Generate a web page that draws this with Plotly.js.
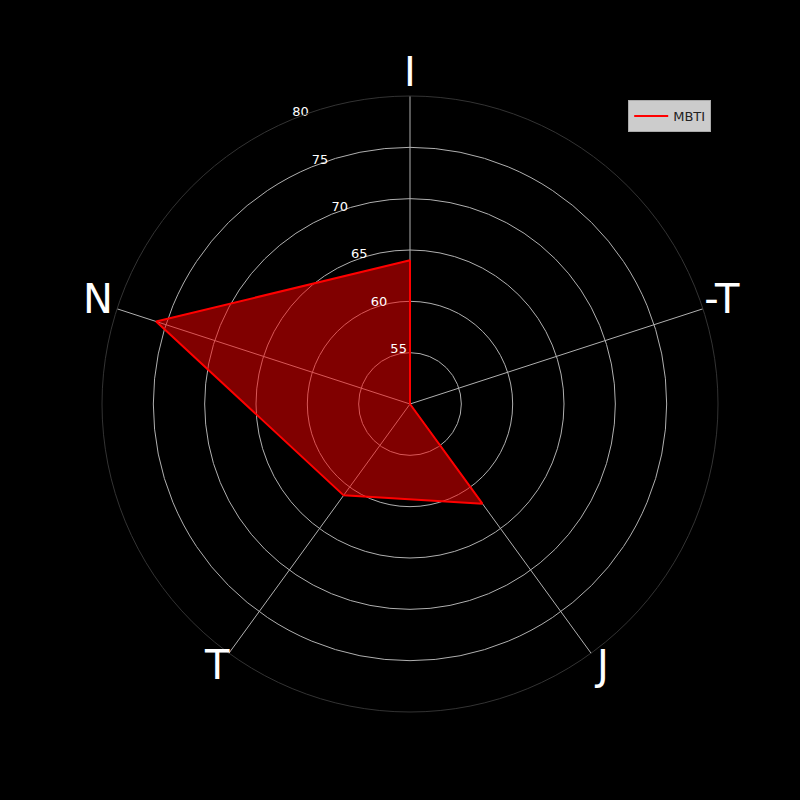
<!DOCTYPE html>
<html>
<head>
<meta charset="utf-8">
<script src="https://cdn.plot.ly/plotly-3.0.1.min.js"></script>
<style>html,body{margin:0;padding:0;background:#000;}#chart{width:800px;height:800px;}</style>
</head>
<body>
<div id="chart"></div>
<script>
const categories = ["I", "-T", "J", "T", "N"];
const values = [64, 50, 62, 61, 76];
const radialTicks = [55, 60, 65, 70, 75, 80];
const seriesName = "MBTI";

// angular positions of the categories (evenly spaced, clockwise from top)
const step = 360 / categories.length;
const thetas = categories.map((c, i) => i * step);
const thetaClosed = thetas.concat([thetas[0]]);
const rClosed = values.concat([values[0]]);

const rLabelAngle = -22.5;   // radial tick labels direction

const traces = [
  {
    type: "scatterpolar",
    r: rClosed,
    theta: thetaClosed,
    mode: "none",
    fill: "toself",
    fillcolor: "rgba(255,0,0,0.5)",
    showlegend: false,
    hoverinfo: "skip"
  },
  {
    type: "scatterpolar",
    r: rClosed,
    theta: thetaClosed,
    mode: "lines",
    line: {color: "#ff0000", width: 2},
    name: seriesName
  },
  {
    type: "scatterpolar",
    r: radialTicks,
    theta: radialTicks.map(() => rLabelAngle),
    mode: "text",
    text: radialTicks.map(String),
    textposition: "top right",
    textfont: {size: 13, color: "#ffffff", family: "DejaVu Sans"},
    cliponaxis: false,
    showlegend: false,
    hoverinfo: "skip"
  },
  {
    // category labels on an invisible, slightly larger overlay polar
    type: "scatterpolar",
    subplot: "polar2",
    r: categories.map(() => 1),
    theta: thetas,
    mode: "text",
    text: categories,
    textposition: "middle center",
    textfont: {size: 40, color: "#ffffff", family: "DejaVu Sans"},
    cliponaxis: false,
    showlegend: false,
    hoverinfo: "skip"
  }
];

const hiddenAxis = {visible: false, showgrid: false, showline: false, showticklabels: false, ticks: ""};

const layout = {
  width: 800,
  height: 800,
  margin: {l: 0, r: 0, t: 0, b: 0},
  paper_bgcolor: "#000000",
  plot_bgcolor: "#000000",
  font: {family: "DejaVu Sans", color: "#ffffff"},
  polar: {
    domain: {x: [0.1275, 0.8975], y: [0.11, 0.88]},
    bgcolor: "#000000",
    angularaxis: {
      type: "linear",
      rotation: 90,
      direction: "clockwise",
      tickmode: "array",
      tickvals: thetas,
      ticktext: categories,
      showticklabels: false,
      ticks: "",
      showline: true,
      linecolor: "#333333",
      linewidth: 1,
      gridcolor: "#b0b0b0",
      gridwidth: 0.8
    },
    radialaxis: {
      range: [50, 80],
      tickvals: radialTicks,
      showticklabels: false,
      showline: false,
      ticks: "",
      gridcolor: "#b0b0b0",
      gridwidth: 0.8
    }
  },
  polar2: {
    domain: {x: [0.1025, 0.9225], y: [0.085, 0.905]},
    bgcolor: "rgba(0,0,0,0)",
    angularaxis: Object.assign({type: "linear", rotation: 90, direction: "clockwise"}, hiddenAxis),
    radialaxis: Object.assign({range: [0, 1]}, hiddenAxis)
  },
  showlegend: true,
  legend: {
    x: 0.889,
    y: 0.875,
    xanchor: "right",
    yanchor: "top",
    itemwidth: 34,
    bgcolor: "#cccccc",
    bordercolor: "#aaaaaa",
    borderwidth: 1,
    font: {size: 13, color: "#222222", family: "DejaVu Sans"}
  }
};

Plotly.newPlot("chart", traces, layout, {displayModeBar: false});
</script>
</body>
</html>
